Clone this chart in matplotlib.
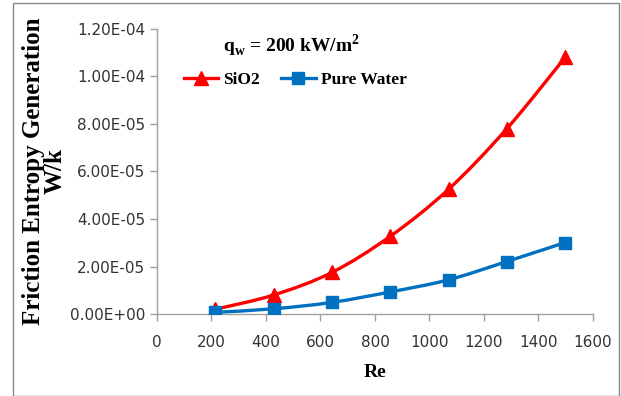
import matplotlib.pyplot as plt
from matplotlib.lines import Line2D
from matplotlib.patches import PathPatch, Rectangle
from matplotlib.path import Path

re_vals = [214, 428, 642, 856, 1070, 1284, 1498]
sio2 = [2.0e-6, 8.0e-6, 1.75e-5, 3.27e-5, 5.25e-5, 7.8e-5, 1.08e-4]
water = [0.7e-6, 2.2e-6, 4.9e-6, 9.3e-6, 1.44e-5, 2.21e-5, 3.01e-5]
y_ticks = [0, 2e-5, 4e-5, 6e-5, 8e-5, 1e-4, 1.2e-4]
x_ticks = list(range(0, 1601, 200))

serif = 'Liberation Serif'
sans = 'Liberation Sans Narrow'


def smooth_path(xs, ys):
    # Excel-style smoothed line: Catmull-Rom segments drawn as cubic Bezier curves
    pts = list(zip(xs, ys))
    verts = [pts[0]]
    codes = [Path.MOVETO]
    n = len(pts)
    for i in range(n - 1):
        p0 = pts[max(i - 1, 0)]
        p1 = pts[i]
        p2 = pts[i + 1]
        p3 = pts[min(i + 2, n - 1)]
        c1 = (p1[0] + (p2[0] - p0[0]) / 6, p1[1] + (p2[1] - p0[1]) / 6)
        c2 = (p2[0] - (p3[0] - p1[0]) / 6, p2[1] - (p3[1] - p1[1]) / 6)
        verts += [c1, c2, p2]
        codes += [Path.CURVE4] * 3
    return Path(verts, codes)


fig = plt.figure(figsize=(6.21, 3.96), dpi=100)
ax = fig.add_axes([0.2528, 0.207, 0.702, 0.720])

series = [(sio2, '#FF0000', '^', 10.5, 'SiO2'), (water, '#0070C0', 's', 9, 'Pure Water')]
handles = []
for vals, col, mk, ms, name in series:
    ax.add_patch(PathPatch(smooth_path(re_vals, vals), fill=False, edgecolor=col, lw=2.4,
                           zorder=2))
    ax.plot(re_vals, vals, ls='none', color=col, marker=mk, markersize=ms, zorder=3)
    handles.append(Line2D([], [], color=col, lw=2.4, marker=mk, markersize=ms, label=name))

ax.set_xlim(0, 1600)
ax.set_ylim(0, 1.2e-4)
ax.set_xticks(x_ticks)
ax.set_yticks(y_ticks)
ax.set_yticklabels([f'{v:.2E}' for v in y_ticks])
for lbl in ax.get_xticklabels() + ax.get_yticklabels():
    lbl.set_fontfamily(sans)
    lbl.set_fontsize(11)
    lbl.set_color('#333333')

for s in ['top', 'right']:
    ax.spines[s].set_visible(False)
for s in ['left', 'bottom']:
    ax.spines[s].set_color('#A0A0A0')
    ax.spines[s].set_linewidth(1)
ax.tick_params(axis='both', direction='out', length=5, color='#A0A0A0', width=1)
ax.tick_params(axis='x', pad=10)

ax.set_xlabel('Re', fontfamily=serif, fontweight='bold', fontsize=14, labelpad=10)
ax.set_ylabel('Friction Entropy Generation\nW/k', fontfamily=serif, fontweight='bold',
              fontsize=18, linespacing=0.95, labelpad=2)

fig.text(0.47, 0.885, r'q$_\mathregular{w}$ = 200 kW/m$^\mathregular{2}$', fontfamily=serif,
         fontweight='bold', fontsize=14, ha='center', va='center')

ax.legend(handles=handles, loc='upper left', bbox_to_anchor=(0.045, 0.875), ncol=2,
          frameon=False, prop={'family': serif, 'weight': 'bold', 'size': 12.5},
          handlelength=2.0, handletextpad=0.3, columnspacing=1.2, borderaxespad=0)

fig.patches.append(Rectangle((0.021, 0.0), 0.975, 0.992, transform=fig.transFigure,
                             fill=False, edgecolor='#888888', lw=1))

fig.savefig('out.png', dpi=100)
